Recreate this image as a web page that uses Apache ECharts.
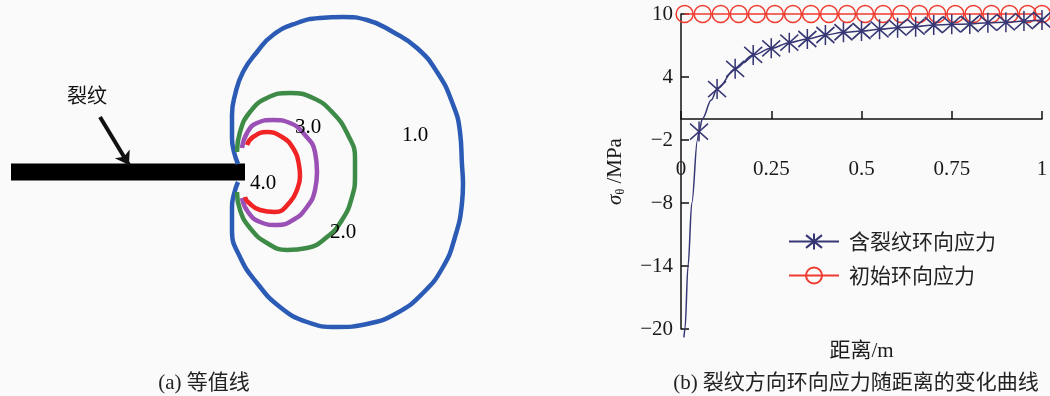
<!DOCTYPE html>
<html><head><meta charset="utf-8">
<script src="https://cdn.jsdelivr.net/npm/echarts@6/dist/echarts.min.js"></script>
<style>html,body{margin:0;padding:0;background:#fafafa}#c{width:1050px;height:396px}</style>
</head><body><div id="c"></div>
<script>
// ---------- Panel (a): contour lines, crack-tip-centred coordinates ----------
const contour1 = [[-7,8],[-11,20],[-13,34],[-13,57],[-10,77],[-2,100],[12,120],[28,137],[52,149],[75,154],[98,155],[122,152],[148,140],[172,124],[192,100],[207,70],[215,40],[217,7],[218,-12],[217,-31],[210,-65],[198,-95],[178,-121],[152,-141],[122,-152],[92,-155],[62,-150],[35,-135],[12,-111],[-5,-85],[-13,-58],[-13,-35],[-11,-22],[-7,-10]];
const contour2 = [[-8,20],[-5,40],[5,60],[22,74],[45,79],[68,74],[88,59],[103,37],[110,14],[110,-3],[107,-25],[97,-48],[82,-65],[62,-76],[42,-78],[22,-71],[5,-56],[-5,-38],[-8,-20]];
const contour3 = [[-3,24],[2,39],[12,49],[28,52],[45,49],[60,37],[70,20],[72,0],[70,-18],[62,-35],[48,-48],[32,-53],[15,-50],[3,-40],[-3,-26]];
const contour4 = [[2,27],[8,35],[22,40],[37,35],[48,24],[54,7],[55,-4],[53,-15],[45,-30],[30,-40],[15,-38],[3,-30],[0,-25]];
const contourLevels = ['1.0','2.0','3.0','4.0'];
const contourLabelPos = [[170,37],[98,-60],[63,45],[18,-11]];
const crackLine = [[-234,0],[0,0]];
const arrowLine = [[-145,55],[-116,7]];
const crackLabel = '裂纹';
const crackLabelPos = [-158,77];

// ---------- Panel (b): hoop stress vs distance ----------
const xTicks = [0,0.25,0.5,0.75,1];
const yTicks = [-20,-14,-8,-2,4,10];
const crackDist   = [0.008,0.011,0.0195,0.030,0.0455,0.05,0.059,0.084,0.1,0.15,0.2,0.25,0.3,0.35,0.4,0.45,0.5,0.55,0.6,0.65,0.7,0.75,0.8,0.85,0.9,0.95,1.0];
const crackStress = [-20.8,-20,-14,-8,-2,-1.2,0,1.8,2.85,4.78,6.1,6.73,7.27,7.62,8.0,8.26,8.38,8.54,8.70,8.79,8.95,9.02,9.05,9.17,9.21,9.33,9.43];
const markerDist  = [0.05,0.1,0.15,0.2,0.25,0.3,0.35,0.4,0.45,0.5,0.55,0.6,0.65,0.7,0.75,0.8,0.85,0.9,0.95,1.0];
const initDist    = [0.01,0.06,0.11,0.16,0.21,0.26,0.31,0.36,0.41,0.46,0.51,0.56,0.61,0.66,0.71,0.76,0.81,0.86,0.91,0.96,1.0];
const initStress  = [10,10,10,10,10,10,10,10,10,10,10,10,10,10,10,10,10,10,10,10,10];
const seriesNames = ['含裂纹环向应力','初始环向应力'];
const captions = ['(a) 等值线','(b) 裂纹方向环向应力随距离的变化曲线'];
const xName = '距离/m';

const SERIF = '"Liberation Serif", "Noto Sans CJK SC"';
const CJK = '"Noto Sans CJK SC"';
const navy = '#363674';
const red = '#ef3b2f';
const contourColors = ['#2b5bb5','#3d8b47','#9a50b5','#f02424'];
const contours = [contour1, contour2, contour3, contour4];

const Y_MIN = -20, Y_MAX = 10, GRID_TOP = 14, GRID_H = 315;
// x axis sits at y = 0: shift it up from the grid bottom by the pixel distance of 0 from Y_MIN
const zeroOffset = -GRID_H * (0 - Y_MIN) / (Y_MAX - Y_MIN);

const chart = echarts.init(document.getElementById('c'), null, {renderer:'canvas'});

const crackData = crackDist.map((d,i) => markerDist.includes(d) ? [d, crackStress[i]] : {value:[d, crackStress[i]], symbol:'none'});
const initData = initDist.map((d,i) => [d, initStress[i]]);

const series = [];
// panel (a)
series.push({type:'line', xAxisIndex:0, yAxisIndex:0, data:crackLine, symbol:'none', silent:true,
  lineStyle:{color:'#000', width:17, cap:'butt'}, z:1});
contours.forEach((c,i) => series.push({type:'line', xAxisIndex:0, yAxisIndex:0, data:c, symbol:'none', smooth:0.5, silent:true,
  lineStyle:{color:contourColors[i], width:4.5}, z:2}));
series.push({type:'lines', coordinateSystem:'cartesian2d', xAxisIndex:0, yAxisIndex:0, silent:true,
  symbol:['none','arrow'], symbolSize:[0,13], lineStyle:{color:'#111', width:4, opacity:1},
  data:[{coords:arrowLine}], z:3});
series.push({type:'scatter', xAxisIndex:0, yAxisIndex:0, symbolSize:0, silent:true, z:4,
  itemStyle:{opacity:1},
  data: contourLevels.map((t,i) => ({name:t, value:contourLabelPos[i]})).concat([{name:crackLabel, value:crackLabelPos, label:{fontFamily:CJK, fontSize:20, color:'#111'}}]),
  label:{show:true, position:'inside', formatter:'{b}', fontFamily:'"Liberation Serif"', fontSize:21, color:'#000', opacity:1}});
// panel (b)
series.push({name:seriesNames[0], type:'line', xAxisIndex:1, yAxisIndex:1, data:crackData, clip:false,
  smooth:0.35, smoothMonotone:'x',
  symbol:'path://M10,0L10,20M1,2L19,18M1,18L19,2', symbolSize:[18,20],
  itemStyle:{color:navy, borderColor:navy, borderWidth:1.6},
  lineStyle:{color:navy, width:1.5}, z:5});
series.push({name:seriesNames[1], type:'line', xAxisIndex:1, yAxisIndex:1, data:initData, clip:false,
  symbol:'circle', symbolSize:17,
  itemStyle:{color:'rgba(0,0,0,0)', borderColor:red, borderWidth:1.5},
  lineStyle:{color:red, width:1.5}, z:4});

const option = {
  animation:false,
  backgroundColor:'#fafafa',
  grid:[
    {left:0, top:0, width:500, height:396, outerBoundsMode:'none', containLabel:false},
    {left:681, top:GRID_TOP, width:361, height:GRID_H, outerBoundsMode:'none', containLabel:false}
  ],
  xAxis:[
    {gridIndex:0, type:'value', min:-245, max:255, show:false},
    {gridIndex:1, type:'value', min:0, max:1, interval:0.25, position:'bottom', offset:zeroOffset,
      axisLine:{onZero:false, lineStyle:{color:'#111', width:1.5}},
      axisTick:{show:true, inside:true, length:8, lineStyle:{color:'#111', width:1.5}},
      axisLabel:{margin:40, fontFamily:'"Liberation Serif"', fontSize:21, color:'#1a1a1a', showMinLabel:true, showMaxLabel:true},
      splitLine:{show:false},
      name:xName, nameLocation:'middle', nameGap:222,
      nameTextStyle:{fontFamily:SERIF, fontSize:21, color:'#1a1a1a'}}
  ],
  yAxis:[
    {gridIndex:0, type:'value', min:-224, max:172, show:false},
    {gridIndex:1, type:'value', min:Y_MIN, max:Y_MAX,
      axisLine:{show:true, onZero:false, lineStyle:{color:'#111', width:1.5}},
      axisTick:{show:true, inside:true, length:8, customValues:yTicks, lineStyle:{color:'#111', width:1.5}},
      axisLabel:{margin:8, fontFamily:'"Liberation Serif"', fontSize:21, color:'#1a1a1a', customValues:yTicks,
        formatter:v => String(v).replace('-', '\u2212')},
      splitLine:{show:false},
      name:'{a|σ}{b|θ}{c| /MPa}', nameLocation:'middle', nameGap:54,
      nameTextStyle:{rich:{
        a:{fontFamily:'"Liberation Serif"', fontStyle:'italic', fontSize:21, lineHeight:24, color:'#1a1a1a'},
        b:{fontFamily:'"Liberation Serif"', fontSize:12, lineHeight:12, verticalAlign:'bottom', color:'#1a1a1a'},
        c:{fontFamily:'"Liberation Serif"', fontSize:21, lineHeight:24, color:'#1a1a1a'}
      }}}
  ],
  legend:{orient:'vertical', left:783, top:226, itemWidth:50, itemHeight:20, itemGap:13,
    data:seriesNames, textStyle:{fontFamily:CJK, fontSize:21, color:'#222', padding:[0,0,0,5]}},
  graphic:[
    {type:'text', x:204, y:383, style:{text:captions[0], font:'21px ' + SERIF, fill:'#222', textAlign:'center', textVerticalAlign:'middle', align:'center', verticalAlign:'middle'}},
    {type:'text', x:856, y:383, style:{text:captions[1], font:'21px ' + SERIF, fill:'#222', textAlign:'center', textVerticalAlign:'middle', align:'center', verticalAlign:'middle'}}
  ],
  series:series
};
chart.setOption(option);
</script>
</body></html>
